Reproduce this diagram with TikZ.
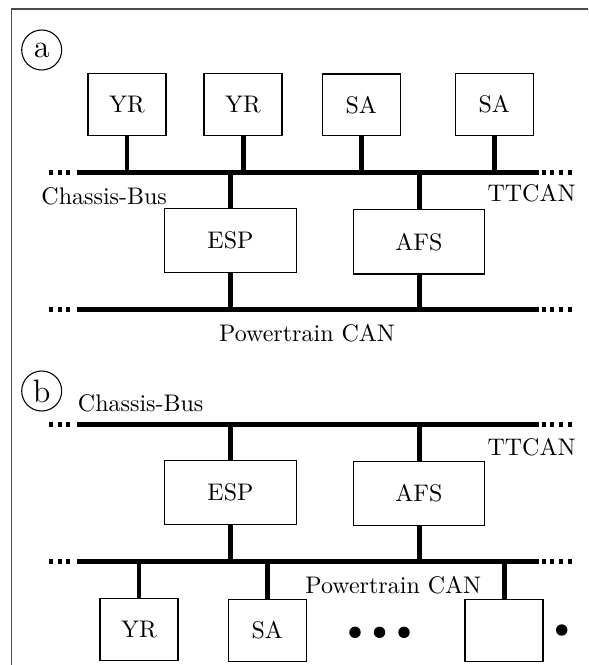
\documentclass[tikz,border=0pt]{standalone}
\begin{document}
\begin{tikzpicture}[x=0.41667pt,y=-0.41667pt,
  ecu/.style={draw, line width=0.45pt, minimum width=32.5pt, minimum height=25.8pt, inner sep=0pt},
  bigecu/.style={draw, line width=0.45pt, minimum width=54.9pt, minimum height=26.9pt, inner sep=0pt},
  bus/.style={line width=2.08pt, line cap=butt},
  busdots/.style={line width=2.08pt, line cap=butt, dash pattern=on 1.67pt off 1.96pt},
  tag/.style={circle, draw, line width=0.45pt, minimum size=16.67pt, inner sep=0pt, font=\fontsize{13.5}{15}\selectfont},
  lbl/.style={inner sep=0pt},
  frame/.style={draw=black!70, line width=0.5pt},
  dot/.style={fill=black}]
\useasboundingbox (0,0) rectangle (588,665);
\clip (0,0) rectangle (588,665);
\draw[frame] (11.7,9) rectangle (640,720);

% buses
\foreach \n/\y in {ca/172.7, pa/309.3, cb/424.3, pb/561.7} {
  \coordinate (\n-l) at (77.3,\y);
  \coordinate (\n-r) at (539.3,\y);
  \coordinate (\n-dl) at (49,\y);
  \coordinate (\n-dle) at (72,\y);
  \coordinate (\n-dr) at (541.7,\y);
  \coordinate (\n-dre) at (572,\y);
  \draw[bus] (\n-l) -- (\n-r);
  \draw[busdots] (\n-dl) -- (\n-dle);
  \draw[busdots] (\n-dr) -- (\n-dre);
}

% ---------- (a) ----------
\node[tag] (taga) at (41.7,50) {a};
\node[ecu] (yr1) at (127,104.2) {YR};
\node[ecu] (yr2) at (243,104.2) {YR};
\node[ecu] (sa1) at (361.3,105) {SA};
\node[ecu] (sa2) at (494.3,104.5) {SA};
\node[bigecu] (espa) at (230.5,240.5) {ESP};
\node[bigecu] (afsa) at (419,241.7) {AFS};
\node[lbl] (cba) at (104.2,196.7) {Chassis-Bus};
\node[lbl] (tta) at (531.5,193.3) {TTCAN};
\node[lbl] (pca) at (307,333.3) {Powertrain CAN};

\foreach \m in {yr1,yr2,sa1,sa2}
  \draw[bus] (\m.south) -- (\m.south |- ca-l);
\draw[bus] (espa.north) -- (espa.north |- ca-l);
\draw[bus] (afsa.north) -- (afsa.north |- ca-l);
\draw[bus] (espa.south) -- (espa.south |- pa-l);
\draw[bus] (afsa.south) -- (afsa.south |- pa-l);

% ---------- (b) ----------
\node[tag] (tagb) at (41.7,391) {b};
\node[lbl] (cbb) at (140.7,403.3) {Chassis-Bus};
\node[lbl] (ttb) at (531.5,446.7) {TTCAN};
\node[bigecu] (espb) at (230.5,492.5) {ESP};
\node[bigecu] (afsb) at (419,493.5) {AFS};
\node[lbl] (pcb) at (393.3,585) {Powertrain CAN};
\node[ecu] (yr3) at (139,629.2) {YR};
\node[ecu] (sa3) at (267.3,630.3) {SA};
\node[ecu] (ex) at (504,630.5) {};

\draw[bus] (espb.north) -- (espb.north |- cb-l);
\draw[bus] (afsb.north) -- (afsb.north |- cb-l);
\draw[bus] (espb.south) -- (espb.south |- pb-l);
\draw[bus] (afsb.south) -- (afsb.south |- pb-l);
\foreach \m in {yr3,sa3,ex}
  \draw[bus] (\m.north) -- (\m.north |- pb-l);

\fill[dot] (355,632.3) circle[radius=5.7];
\fill[dot] (379.5,632.3) circle[radius=5.7];
\fill[dot] (404,632.3) circle[radius=5.7];
\fill[dot] (561.7,630) circle[radius=5.7];
\end{tikzpicture}
\end{document}
